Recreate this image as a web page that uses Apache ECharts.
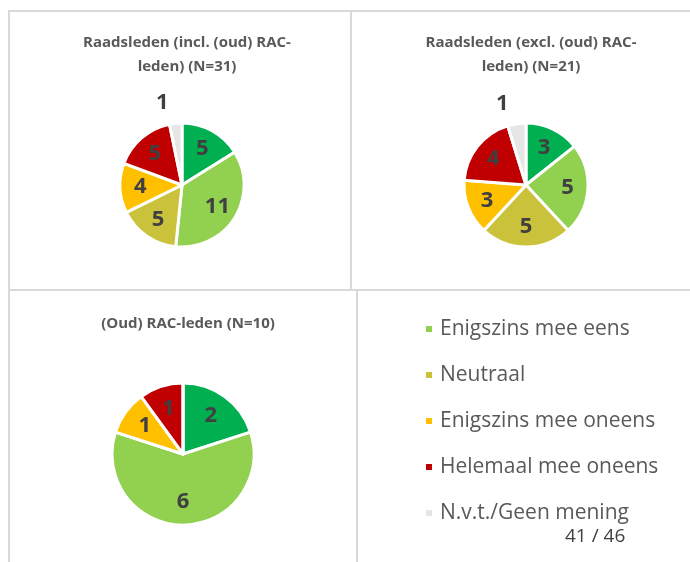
<!DOCTYPE html>
<html><head><meta charset="utf-8">
<script src="https://cdn.jsdelivr.net/npm/echarts@6/dist/echarts.min.js"></script>
<style>html,body{margin:0;padding:0;background:#fff;}#c{width:690px;height:562px;}</style>
</head><body><div id="c"></div>
<script>
const categories = ["Helemaal mee eens","Enigszins mee eens","Neutraal","Enigszins mee oneens","Helemaal mee oneens","N.v.t./Geen mening"];
const colors = ["#00B050","#92D050","#C9C23A","#FFC000","#C00000","#E7E6E6"];
const legendItems = ["Enigszins mee eens","Neutraal","Enigszins mee oneens","Helemaal mee oneens","N.v.t./Geen mening"];
const titles = ["Raadsleden (incl. (oud) RAC-\nleden) (N=31)","Raadsleden (excl. (oud) RAC-\nleden) (N=21)","(Oud) RAC-leden (N=10)"];
const valuesAll = [5, 11, 5, 4, 5, 1];
const valuesExcl = [3, 5, 5, 3, 4, 1];
const valuesRac = [2, 6, 0, 1, 1, 0];
const pageLabel = "41 / 46";

const FONT = "'Open Sans', sans-serif";
const pies = [
  {vals: valuesAll, center: [182, 185], r: 62, outsideIdx: 5},
  {vals: valuesExcl, center: [526, 185], r: 62, outsideIdx: 5},
  {vals: valuesRac, center: [183, 454], r: 71, outsideIdx: -1}
];
const series = [];
pies.forEach((p, i) => {
  const data = p.vals.map((v, k) => ({name: categories[k], value: v, itemStyle: {color: colors[k]}}));
  series.push({
    type: 'pie', center: p.center, radius: [0, p.r], startAngle: 90, clockwise: true,
    avoidLabelOverlap: false, silent: true, animation: false,
    itemStyle: {borderColor: '#fff', borderWidth: 3},
    label: {show: false}, labelLine: {show: false},
    data: data
  });
  // label carrier (transparent) so inside labels sit at ~0.62 r like the original
  const lr = p.r * 1.25;
  series.push({
    type: 'pie', center: p.center, radius: [0, lr], startAngle: 90, clockwise: true,
    avoidLabelOverlap: false, silent: true, animation: false, minShowLabelAngle: 1,
    itemStyle: {color: 'rgba(0,0,0,0)', borderWidth: 0},
    label: {show: true, position: 'inside', formatter: '{c}', color: '#404040', fontSize: 22, fontWeight: 'bold', fontFamily: FONT},
    labelLine: {show: false},
    data: p.vals.map((v, k) => {
      const d = {name: categories[k], value: v, itemStyle: {color: 'rgba(0,0,0,0)'}};
      if (k === p.outsideIdx) {
        d.label = {position: 'outside', color: '#404040', fontSize: 22, fontWeight: 'bold', fontFamily: FONT};
        d.labelLine = {show: false, length: 5, length2: 0};
      }
      return d;
    })
  });
});

const chart = echarts.init(document.getElementById('c'), null, {renderer: 'canvas'});
const borderStyle = {fill: 'none', stroke: '#D9D9D9', lineWidth: 2};
const titleStyle = {fontFamily: FONT, fontSize: 15, fontWeight: 'bold', color: '#595959', lineHeight: 24};
chart.setOption({
  backgroundColor: '#fff',
  animation: false,
  color: colors,
  title: [
    {text: titles[0], left: 182, top: 26, textAlign: 'center', textStyle: titleStyle},
    {text: titles[1], left: 526, top: 26, textAlign: 'center', textStyle: titleStyle},
    {text: titles[2], left: 183, top: 307, textAlign: 'center', textStyle: titleStyle}
  ],
  legend: {
    orient: 'vertical', left: 419, top: 313, icon: 'rect', itemWidth: 8, itemHeight: 8, itemGap: 24,
    selectedMode: false,
    data: legendItems.map(n => ({name: n, itemStyle: {color: colors[categories.indexOf(n)]}})),
    textStyle: {fontFamily: FONT, fontSize: 21, color: '#595959', lineHeight: 22, padding: [0, 0, 0, 2]}
  },
  graphic: [
    {type: 'rect', shape: {x: 9, y: 11, width: 342, height: 279}, style: borderStyle, silent: true},
    {type: 'rect', shape: {x: 351, y: 11, width: 345, height: 279}, style: borderStyle, silent: true},
    {type: 'rect', shape: {x: 9, y: 290, width: 348, height: 280}, style: borderStyle, silent: true},
    {type: 'rect', shape: {x: 357, y: 290, width: 340, height: 280}, style: borderStyle, silent: true},
    {type: 'text', left: 565, top: 527, style: {text: pageLabel, fontFamily: FONT, fontSize: 19, fill: '#404040'}, silent: true}
  ],
  series: series
});
</script></body></html>
